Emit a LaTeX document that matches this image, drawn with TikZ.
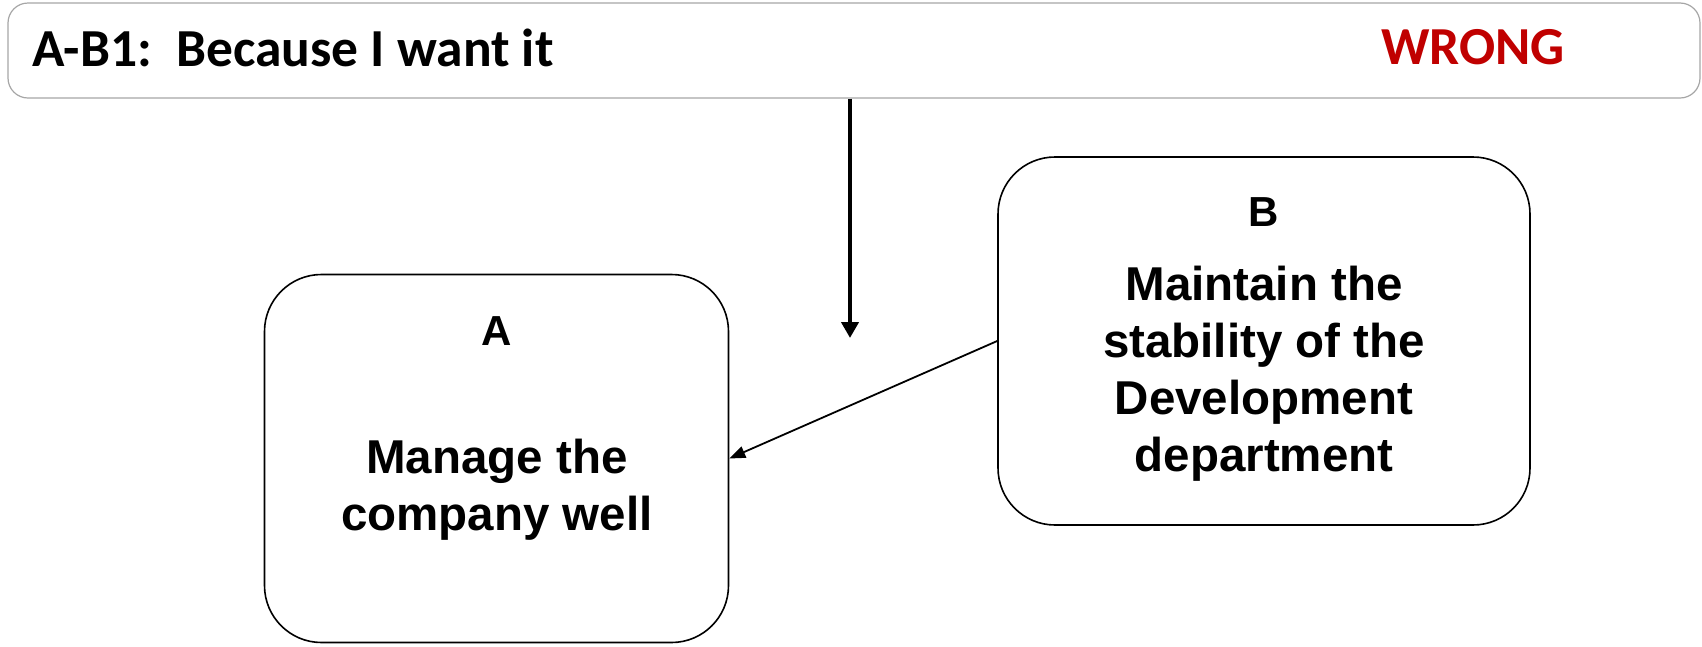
\documentclass[tikz,border=0pt]{standalone}
\usepackage{fontspec}
\usetikzlibrary{arrows.meta}
\newfontfamily\calfont{Carlito}
\newfontfamily\arifont{Liberation Sans}
\definecolor{wrongred}{HTML}{C00000}
\definecolor{bannergray}{HTML}{A6A6A6}
\tikzset{
  banner/.style={draw=bannergray, line width=1.2pt, rounded corners=20pt, minimum width=1692pt, minimum height=95pt, inner sep=0pt},
  goalbox/.style={draw=black, line width=1.6pt, rounded corners=57pt, minimum height=368pt, inner sep=0pt},
  bantext/.style={font=\calfont\bfseries\fontsize{53.5}{62}\selectfont, anchor=base west, inner sep=0pt},
  lettertext/.style={font=\arifont\bfseries\fontsize{42}{50}\selectfont, anchor=base, inner sep=0pt},
  goaltext/.style={font=\arifont\bfseries\fontsize{47.5}{57}\selectfont, anchor=base, align=center, inner sep=0pt},
  bigarrow/.style={line width=4pt, -{Triangle[length=16pt,width=17pt]}},
  thinarrow/.style={line width=1.8pt, -{Triangle[length=16pt,width=12pt]}}
}
\begin{document}
\begin{tikzpicture}[x=1pt,y=-1pt]
\useasboundingbox (0,0) rectangle (1702,646);
\node[banner] (top) at (854,50.5) {};
\node[bantext] (toptext) at (32,66) {A-B1:\ \ Because I want it};
\node[bantext, text=wrongred] (wrong) at (1381,64) {WRONG};
\node[goalbox, minimum width=464pt] (A) at (496.5,458.5) {};
\node[goalbox, minimum width=532pt] (B) at (1264,341) {};
\node[lettertext] (Alabel) at (497,345) {A};
\node[goaltext] (Atext) at (497,530) {Manage the\\company well};
\node[lettertext] (Blabel) at (1264,226) {B};
\node[goaltext] (Btext) at (1264,471) {Maintain the\\stability of the\\Development\\department};
\coordinate (vend) at (850,338);
\draw[bigarrow] (top.south -| vend) -- (vend);
\draw[thinarrow] (B.west) -- (A.east);
\end{tikzpicture}
\end{document}
